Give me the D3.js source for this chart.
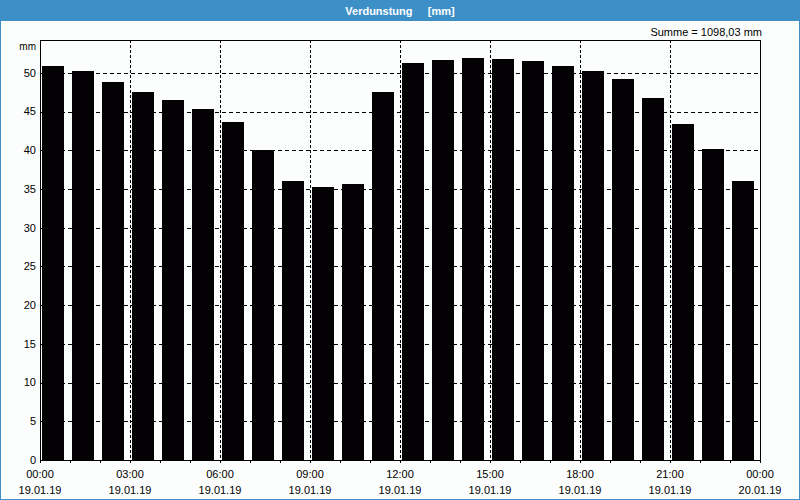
<!DOCTYPE html>
<html>
<head>
<meta charset="utf-8">
<script src="https://cdn.jsdelivr.net/npm/d3@7"></script>
<style>
  body { margin: 0; background: #fff; }
  svg { display: block; font-family: "Liberation Sans", Arial, sans-serif; }
</style>
</head>
<body>
<svg width="800" height="500"></svg>
<script>
const hours = d3.range(0, 24);
const values = [
  50.9, 50.2, 48.85, 47.5, 46.55, 45.3, 43.6, 40.0,
  36.0, 35.2, 35.7, 47.5, 51.3, 51.65, 51.9, 51.8,
  51.55, 50.9, 50.2, 49.2, 46.8, 43.45, 40.2, 36.0
];
const yTicks = [0, 5, 10, 15, 20, 25, 30, 35, 40, 45, 50];
const xTickHours = [0, 3, 6, 9, 12, 15, 18, 21, 24];
const xTimeLabels = ["00:00", "03:00", "06:00", "09:00", "12:00", "15:00", "18:00", "21:00", "00:00"];
const xDateLabels = ["19.01.19", "19.01.19", "19.01.19", "19.01.19", "19.01.19", "19.01.19", "19.01.19", "19.01.19", "20.01.19"];
const title = "Verdunstung     [mm]";
const sumLabel = "Summe = 1098,03 mm";

const svg = d3.select("svg"),
  margin = { top: 40, right: 40, bottom: 40, left: 40 },
  width = +svg.attr("width") - margin.left - margin.right,
  height = +svg.attr("height") - margin.top - margin.bottom,
  x = d3.scaleLinear().domain([0, 24]).range([0, width]),
  y = d3.scaleLinear().domain([0, 54.25]).range([height, 0]);

// background + blue border / title bar
svg.append("rect").attr("width", 800).attr("height", 500).attr("fill", "#3d8fc7");
svg.append("rect").attr("x", 1).attr("y", 21).attr("width", 798).attr("height", 478).attr("fill", "#fcfefd");
svg.append("text")
  .attr("x", 400).attr("y", 15)
  .attr("text-anchor", "middle")
  .attr("fill", "#fff")
  .style("font-size", "11px")
  .style("font-weight", "bold")
  .style("white-space", "pre")
  .text(title);

svg.append("text")
  .attr("x", 762).attr("y", 36)
  .attr("text-anchor", "end")
  .style("font-size", "11px")
  .text(sumLabel);

const g = svg.append("g").attr("transform", `translate(${margin.left},${margin.top})`);

// grid
g.append("g")
  .selectAll("line")
  .data(yTicks.filter((d) => d > 0))
  .join("line")
  .attr("x1", 0).attr("x2", width)
  .attr("y1", (d) => Math.round(y(d)) + 0.5)
  .attr("y2", (d) => Math.round(y(d)) + 0.5)
  .attr("stroke", "#000")
  .attr("stroke-dasharray", "4,3");

g.append("g")
  .selectAll("line")
  .data(xTickHours.filter((d) => d > 0 && d < 24))
  .join("line")
  .attr("x1", (d) => x(d) + 0.5).attr("x2", (d) => x(d) + 0.5)
  .attr("y1", 0).attr("y2", height)
  .attr("stroke", "#000")
  .attr("stroke-dasharray", "3,2");

// bars
g.selectAll(".bar")
  .data(values)
  .join("rect")
  .attr("class", "bar")
  .attr("x", (d, i) => x(hours[i]) + 2)
  .attr("width", x(1) - x(0) - 8)
  .attr("y", (d) => Math.round(y(d)))
  .attr("height", (d) => height - Math.round(y(d)))
  .attr("fill", "#040104");

// frame
g.append("rect")
  .attr("x", 0.5).attr("y", 0.5)
  .attr("width", width).attr("height", height)
  .attr("fill", "none")
  .attr("stroke", "#000");

// y axis labels
g.append("g")
  .selectAll("text")
  .data(yTicks)
  .join("text")
  .attr("x", -4)
  .attr("y", (d) => y(d))
  .attr("dy", "0.35em")
  .attr("text-anchor", "end")
  .style("font-size", "11px")
  .text((d) => d);

g.append("text")
  .attr("x", -4).attr("y", 6)
  .attr("dy", "0.35em")
  .attr("text-anchor", "end")
  .style("font-size", "10px")
  .text("mm");

// x axis small ticks
g.append("g")
  .attr("transform", `translate(0,${height})`)
  .call(d3.axisBottom(x).tickValues(hours.concat([24])).tickSize(3).tickFormat(""))
  .call((a) => a.select(".domain").remove())
  .call((a) => a.selectAll("line").attr("stroke", "#000"));

const xl = g.append("g")
  .selectAll("g")
  .data(xTickHours)
  .join("g")
  .attr("transform", (d) => `translate(${x(d)},${height})`);
xl.append("text")
  .attr("y", 18)
  .attr("text-anchor", "middle")
  .style("font-size", "11px")
  .text((d, i) => xTimeLabels[i]);
xl.append("text")
  .attr("y", 34)
  .attr("text-anchor", "middle")
  .style("font-size", "11px")
  .text((d, i) => xDateLabels[i]);
</script>
</body>
</html>
